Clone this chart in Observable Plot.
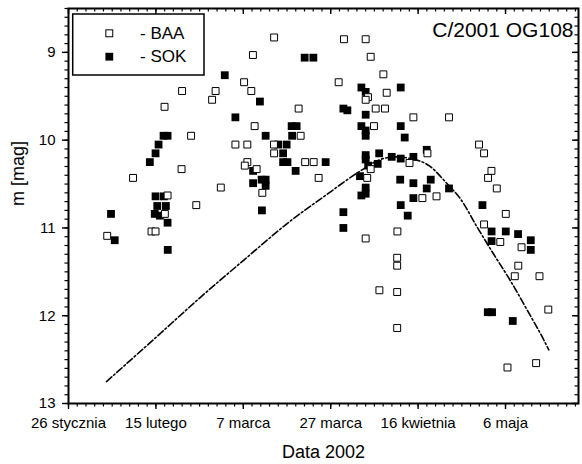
<!DOCTYPE html>
<html><head><meta charset="utf-8">
<script src="https://cdn.jsdelivr.net/npm/d3@7"></script>
<script src="https://cdn.jsdelivr.net/npm/@observablehq/plot@0.6"></script>
<style>body{margin:0;background:#fff;} #chart{width:582px;height:464px;}</style>
</head><body><div id="chart"></div>
<script>
// Day of year 2002 (1 = 1 January), magnitude
const baaDay = [34.86,40.77,45.00,45.92,47.98,48.05,48.67,51.99,51.87,54.05,55.24,58.86,59.66,60.85,66.18,67.83,68.20,68.59,64.19,66.92,66.92,66.34,69.05,70.35,73.05,73.01,73.05,78.66,79.12,80.15,82.10,83.24,87.82,89.03,94.00,95.15,98.05,98.81,94.53,94.00,96.29,98.42,104.92,113.07,95.90,108.13,104.03,95.15,94.35,106.98,110.21,119.94,121.09,122.78,122.00,124.00,126.06,121.09,101.26,94.00,124.80,129.67,101.21,101.21,128.92,128.12,133.77,97.14,101.21,135.79,101.21,126.45,133.00];
const baaMag = [11.09,10.43,11.04,11.04,9.62,10.84,10.63,9.44,10.33,9.95,10.74,9.54,9.44,10.54,9.34,9.44,9.03,9.84,10.05,10.05,10.25,10.29,10.33,10.60,8.83,10.05,10.15,9.64,9.95,10.25,10.25,10.43,9.34,8.85,8.85,9.05,9.25,9.46,9.51,9.54,9.64,9.64,9.74,9.74,9.84,10.15,10.26,10.33,10.43,10.66,10.64,10.05,10.15,10.35,10.43,10.55,10.84,10.96,11.04,11.12,11.16,11.22,11.34,11.43,11.43,11.55,11.55,11.71,11.73,11.93,12.14,12.59,12.54];
const sokDay = [35.73,36.58,44.61,45.92,46.61,47.75,48.67,45.92,47.82,46.31,48.28,45.74,46.90,48.67,48.71,61.76,64.19,69.80,71.11,68.24,68.24,70.19,71.11,71.11,70.26,73.97,75.91,75.11,75.11,76.10,77.06,78.20,77.17,77.97,80.04,82.03,84.84,88.90,89.81,88.90,88.90,93.02,94.00,94.00,102.02,93.02,94.00,94.00,102.02,102.93,94.00,94.00,94.57,97.09,96.75,99.96,102.02,104.92,107.97,92.70,94.00,94.00,93.02,101.90,104.92,108.89,107.97,113.07,104.92,102.02,103.62,120.72,122.81,122.81,126.06,128.87,131.78,131.78,121.94,122.92,127.66];
const sokMag = [10.84,11.14,10.25,10.15,10.05,9.95,9.95,10.64,10.64,10.75,10.75,10.84,10.86,10.94,11.25,9.26,9.74,9.56,9.95,10.35,10.49,10.45,10.45,10.52,10.80,10.05,10.05,10.15,10.25,10.25,9.84,9.84,9.95,10.35,9.06,9.06,10.25,9.64,9.66,10.82,11.00,9.40,9.45,9.71,9.40,9.84,9.89,9.95,9.84,9.97,10.17,10.22,10.29,10.15,10.27,10.19,10.21,10.19,10.11,10.41,10.54,10.61,10.63,10.45,10.49,10.45,10.55,10.55,10.66,10.74,10.86,10.74,11.04,11.15,11.04,11.07,11.14,11.25,11.96,11.96,12.06];
const modelDay = [34.7,45.5,56.2,66.5,76.8,84.8,92.8,97.4,100.8,104.3,108.5,112.7,115.7,119.5,123.3,127.1,131.0,134.8,135.9];
const modelMag = [12.75,12.27,11.79,11.35,10.92,10.63,10.35,10.22,10.19,10.21,10.29,10.50,10.67,10.99,11.30,11.60,11.94,12.28,12.39];
const xTickDays = [26,46,66,86,106,126];
const xTickLabels = ["26 stycznia","15 lutego","7 marca","27 marca","16 kwietnia","6 maja"];
const yTicks = [9,10,11,12,13];
const seriesNames = ["BAA","SOK"];
const titleText = "C/2001 OG108";
const xTitle = "Data 2002";
const yTitle = "m [mag]";

const baa = baaDay.map((d,i)=>({day:d, mag:baaMag[i]}));
const sok = sokDay.map((d,i)=>({day:d, mag:sokMag[i]}));
const model = modelDay.map((d,i)=>({day:d, mag:modelMag[i]}));
const xMinor = d3.range(26, 143, 2);
const yMinor = d3.range(85, 131).map(v=>v/10);

const W=582,H=464, mt=8, mr=4, mb=61, ml=68;
const iw = W-ml-mr, ih = H-mt-mb;
const font = "'Liberation Sans', Arial, Helvetica, sans-serif";

const chart = Plot.plot({
  width: W, height: H, marginTop: mt, marginRight: mr, marginBottom: mb, marginLeft: ml,
  style: {fontFamily: font, fontSize: "15px", color: "black", background: "white", overflow: "visible"},
  x: {type: "linear", domain: [26, 142.7]},
  y: {domain: [8.5, 13], reverse: true},
  marks: [
    Plot.axisX({ticks: xMinor, tickSize: 3.5, strokeWidth: 1.2, tickFormat: () => "", label: null}),
    Plot.axisX({ticks: xTickDays, tickSize: 6, strokeWidth: 1.4, tickPadding: 8, fontSize: 15, label: null,
      tickFormat: d => xTickLabels[xTickDays.indexOf(d)]}),
    Plot.axisY({ticks: yMinor, tickSize: 3.5, strokeWidth: 1.2, tickFormat: () => "", label: null}),
    Plot.axisY({ticks: yTicks, tickSize: 6, strokeWidth: 1.4, tickPadding: 7, fontSize: 15, label: null, tickFormat: d => String(d)}),
    Plot.ruleX(xMinor, {insetBottom: ih-3.5, strokeWidth: 1.2}),
    Plot.ruleX(xTickDays, {insetBottom: ih-6, strokeWidth: 1.4}),
    Plot.ruleY(yMinor, {insetLeft: iw-3.5, strokeWidth: 1.2}),
    Plot.ruleY(yTicks, {insetLeft: iw-6, strokeWidth: 1.4}),
    Plot.line(model, {x: "day", y: "mag", curve: "monotone-x", strokeDasharray: "7,2.5,1.8,2.5", strokeWidth: 1.6}),
    Plot.dot(sok, {x: "day", y: "mag", symbol: "square", r: 4.4, fill: "black", stroke: null}),
    Plot.dot(baa, {x: "day", y: "mag", symbol: "square", r: 3.9, fill: "white", stroke: "black", strokeWidth: 1}),
    Plot.frame({strokeWidth: 2}),
    Plot.text([titleText], {frameAnchor: "top-right", textAnchor: "end", lineAnchor: "top", dx: -5, dy: 14, fontSize: 21}),
    Plot.text([xTitle], {frameAnchor: "bottom", lineAnchor: "middle", dy: 48.5, fontSize: 18}),
    Plot.text([yTitle], {frameAnchor: "left", rotate: -90, lineAnchor: "middle", dx: -50, fontSize: 18})
  ]
});

// legend
const svg = d3.select(chart);
const lg = svg.append("g").attr("font-family", font).attr("font-size", 17).attr("text-anchor", "start");
lg.append("rect").attr("x", 72.7).attr("y", 14).attr("width", 131.3).attr("height", 61)
  .attr("fill", "white").attr("stroke", "black").attr("stroke-width", 1.5);
const s = 3.9*Math.sqrt(Math.PI);
lg.append("rect").attr("x", 109.3 - s/2).attr("y", 33.3 - s/2).attr("width", s).attr("height", s)
  .attr("fill", "white").attr("stroke", "black");
const s2 = 4.4*Math.sqrt(Math.PI);
lg.append("rect").attr("x", 109.3 - s2/2).attr("y", 56.7 - s2/2).attr("width", s2).attr("height", s2)
  .attr("fill", "black");
lg.append("text").attr("x", 140).attr("y", 38.5).text("- " + seriesNames[0]);
lg.append("text").attr("x", 140).attr("y", 62).text("- " + seriesNames[1]);

document.getElementById("chart").appendChild(chart);
</script>
</body></html>
